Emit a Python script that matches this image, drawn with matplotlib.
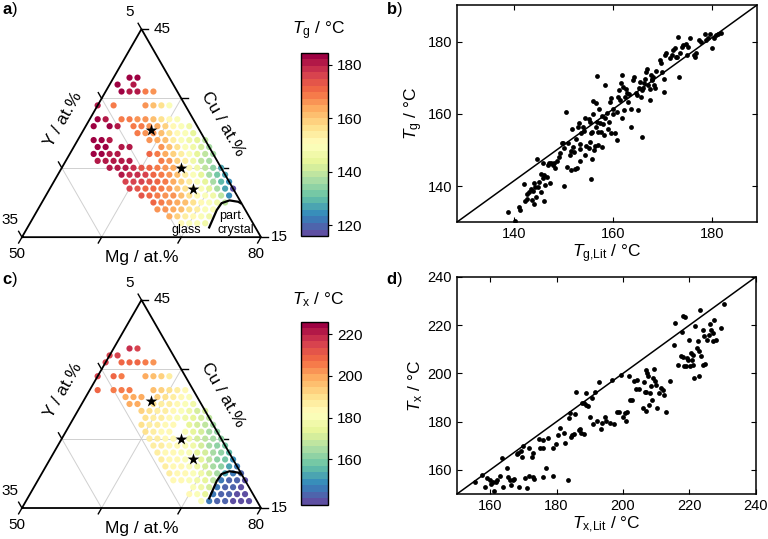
"""Ternary Tg/Tx maps of Mg-Cu-Y plus measured vs literature comparison."""

import matplotlib

matplotlib.use("Agg")

import matplotlib.pyplot as plt  # noqa: E402
import numpy as np  # noqa: E402

plt.rcParams["font.family"] = ["Liberation Sans", "DejaVu Sans"]
plt.rcParams["mathtext.fontset"] = "custom"
plt.rcParams["mathtext.rm"] = "Liberation Sans"
plt.rcParams["mathtext.it"] = "Liberation Sans:italic"
plt.rcParams["mathtext.bf"] = "Liberation Sans:bold"

# ---- panel a: Tg over composition (Cu, Y in at.%, Mg = rest) ----
cu_a = ([38] * 2 + [37] * 2 + [36] * 5 + [34] * 6 + [32] * 10 + [31] * 11
        + [30] * 8 + [29] * 11 + [28] * 11 + [27] * 13 + [26] * 12 + [25] * 15
        + [24] * 14 + [23] * 14 + [22] * 14 + [21] * 12 + [20] * 10 + [19] * 8
        + [18] * 6 + [17] * 4)
y_a = [10, 9,
       12, 10,
       12, 11, 10, 9, 8,
       16, 14, 10, 9, 8, 7,
       17, 16, 14, 13, 12, 11, 10, 9, 8, 7,
       18, 16, 15, 13, 12, 11, 10, 9, 8, 7, 6,
       13, 12, 11, 10, 9, 8, 7, 6,
       19, 18, 17, 12, 11, 10, 9, 8, 7, 6, 5,
       19, 18, 16, 15, 11, 10, 9, 8, 7, 6, 5,
       20, 19, 18, 17, 13, 12, 11, 10, 9, 8, 7, 6, 5,
       20, 19, 18, 17, 16, 12, 11, 10, 9, 8, 7, 6,
       19, 18, 17, 16, 15, 14, 13, 12, 11, 10, 9, 8, 7, 6, 5,
       18, 17, 16, 15, 14, 13, 12, 11, 10, 9, 8, 7, 6, 5,
       18, 17, 16, 15, 14, 13, 12, 11, 10, 9, 8, 7, 6, 5,
       18, 17, 16, 15, 14, 13, 12, 11, 10, 9, 8, 7, 6, 5,
       17, 16, 15, 14, 13, 12, 11, 10, 9, 8, 7, 6,
       16, 15, 14, 13, 12, 11, 10, 9, 8, 7,
       16, 15, 14, 13, 12, 11, 10, 9,
       15, 14, 13, 12, 11, 10,
       14, 13, 12, 11]
tg_a = [183, 183,
        184, 182,
        183, 182, 181, 168, 166,
        182, 168, 166, 162, 156, 150,
        183, 182, 169, 168, 167, 165, 162, 157, 152, 149,
        184, 183, 182, 169, 168, 166, 164, 158, 152, 150, 147,
        168, 167, 165, 162, 157, 152, 148, 145,
        183, 183, 182, 166, 164, 161, 155, 150, 147, 143, 140,
        184, 183, 182, 181, 165, 161, 156, 150, 146, 142, 138,
        183, 183, 182, 182, 170, 168, 164, 160, 154, 148, 144, 140, 136,
        182, 182, 182, 181, 180, 168, 165, 160, 153, 147, 140, 136,
        181, 181, 180, 178, 174, 171, 169, 167, 163, 158, 152, 146, 140, 134, 128,
        180, 179, 178, 176, 172, 169, 166, 161, 155, 150, 145, 138, 132, 126,
        177, 176, 175, 173, 170, 168, 164, 158, 153, 150, 145, 138, 130, 124,
        175, 174, 172, 170, 168, 166, 162, 157, 152, 150, 145, 137, 128, 118,
        173, 171, 169, 167, 165, 161, 156, 152, 150, 146, 140, 125,
        170, 168, 167, 164, 161, 156, 152, 150, 146, 140,
        167, 166, 164, 161, 157, 153, 150, 148,
        163, 159, 155, 152, 150, 147,
        152, 150, 148, 146]

# ---- panel c: Tx over composition ----
cu_c = ([38] * 2 + [37] * 2 + [36] * 6 + [34] * 7 + [32] * 9 + [31] * 8
        + [30] * 8 + [29] * 9 + [28] * 9 + [27] * 9 + [26] * 9 + [25] * 9
        + [24] * 10 + [23] * 10 + [22] * 10 + [21] * 10 + [20] * 10
        + [19] * 10 + [18] * 7 + [17] * 8 + [16] * 7)
y_c = [10, 9,
       13, 12,
       14, 12, 11, 10, 9, 8,
       16, 14, 13, 10, 9, 8, 7,
       17, 15, 14, 13, 10, 9, 8, 7, 6,
       14, 13, 12, 10, 9, 8, 7, 6,
       14, 13, 11, 10, 9, 8, 7, 6,
       13, 12, 11, 10, 9, 8, 7, 6, 5,
       13, 12, 11, 10, 9, 8, 7, 6, 5,
       14, 13, 12, 11, 10, 8, 7, 6, 5,
       14, 13, 12, 11, 9, 8, 7, 6, 5,
       14, 13, 12, 11, 9, 8, 7, 6, 5,
       14, 13, 12, 11, 10, 9, 8, 7, 6, 5,
       14, 13, 12, 11, 10, 9, 8, 7, 6, 5,
       14, 13, 12, 11, 10, 9, 8, 7, 6, 5,
       14, 13, 12, 11, 10, 9, 8, 7, 6, 5,
       14, 13, 12, 11, 10, 9, 8, 7, 6, 5,
       14, 13, 12, 11, 10, 9, 8, 7, 6, 5,
       12, 11, 10, 9, 8, 7, 6,
       13, 12, 11, 10, 9, 8, 7, 6,
       12, 11, 10, 9, 8, 7, 6]
tx_c = [217, 216,
        216, 214,
        215, 210, 209, 208, 205, 203,
        214, 208, 207, 200, 197, 192, 188,
        210, 206, 205, 204, 196, 193, 190, 186, 183,
        200, 199, 198, 192, 189, 187, 184, 181,
        199, 198, 190, 188, 186, 183, 180, 176,
        192, 190, 188, 186, 183, 179, 176, 172, 170,
        190, 188, 186, 184, 181, 177, 173, 170, 167,
        190, 188, 186, 184, 182, 175, 171, 168, 165,
        189, 187, 185, 183, 179, 174, 170, 166, 163,
        188, 186, 184, 182, 177, 172, 168, 164, 160,
        188, 186, 184, 182, 180, 176, 171, 166, 162, 158,
        187, 185, 183, 181, 179, 175, 170, 165, 160, 155,
        187, 185, 183, 181, 178, 173, 168, 163, 157, 150,
        186, 184, 182, 180, 177, 172, 166, 160, 152, 146,
        186, 184, 182, 180, 176, 170, 164, 152, 146, 142,
        185, 183, 181, 178, 174, 168, 145, 143, 142, 141,
        180, 176, 172, 146, 144, 142, 141,
        182, 179, 175, 146, 144, 142, 141, 140,
        180, 146, 144, 142, 141, 140, 139]

# reference alloys (Mg, Cu) marked with stars
star_mg = [58.5, 65, 68]
star_cu = [30.5, 25, 22]

# glass / partly crystalline border (Mg, Cu)
border_mg = [72.8, 72.5, 72.6, 73.4, 74.6, 75.0]
border_cu = [16.4, 18.9, 19.9, 20.3, 20.1, 19.9]

# ---- panel b: Tg measured vs literature ----
tg_lit_b = [138.8, 140.3, 141.1, 141.3, 142.1, 142.3, 142.6, 142.6, 143.0, 143.4,
            143.6, 143.9, 144.0, 144.1, 144.3, 144.5, 144.6, 144.9, 145.1, 145.4,
            145.5, 145.8, 145.9, 146.0, 146.1, 146.2, 146.6, 146.8, 147.0, 147.2,
            147.4, 147.9, 148.1, 148.3, 148.6, 149.1, 149.3, 149.7, 149.8, 150.0,
            150.1, 150.5, 150.6, 150.9, 151.3, 151.5, 151.6, 151.8, 152.0, 152.2,
            152.3, 152.6, 152.7, 153.0, 153.2, 153.3, 153.3, 153.4, 153.6, 154.0,
            154.1, 154.4, 154.4, 154.6, 155.2, 155.2, 155.3, 155.4, 155.6, 155.6,
            155.8, 155.8, 156.0, 156.0, 156.2, 156.4, 156.5, 156.6, 156.8, 156.8,
            156.9, 157.0, 157.2, 157.3, 157.5, 157.7, 157.8, 158.0, 158.1, 158.3,
            158.4, 158.7, 158.9, 159.2, 159.3, 159.5, 159.5, 159.9, 160.0, 160.4,
            160.7, 160.8, 160.9, 161.2, 161.3, 161.5, 161.7, 161.8, 161.9, 162.2,
            162.3, 162.6, 162.8, 163.0, 163.2, 163.5, 163.7, 164.0, 164.2, 164.6,
            164.8, 165.0, 165.2, 165.4, 165.6, 165.8, 165.9, 166.0, 166.2, 166.4,
            166.7, 166.8, 167.1, 167.4, 167.5, 167.7, 167.8, 167.9, 168.1, 168.2,
            168.5, 168.6, 169.4, 169.7, 169.9, 170.2, 170.2, 170.5, 170.7, 171.4,
            171.9, 172.1, 172.4, 172.6, 172.9, 173.1, 173.2, 173.4, 173.8, 174.1,
            174.6, 174.8, 175.1, 175.6, 176.4, 176.6, 176.8, 177.4, 177.8, 178.5,
            178.7, 179.1, 179.5, 179.9, 180.3, 180.7, 181.1, 181.8]
tg_b = [132.7, 130.2, 134.2, 133.3, 140.6, 135.9, 137.7, 136.4, 138.4, 139.2,
        136.0, 138.7, 135.0, 140.8, 139.6, 136.9, 147.4, 139.8, 141.2, 143.2,
        138.4, 142.3, 146.5, 135.9, 143.0, 140.2, 142.4, 145.9, 146.5, 140.9,
        146.3, 145.9, 146.5, 144.9, 147.0, 148.1, 149.2, 152.0, 151.8, 139.9,
        150.5, 160.6, 145.2, 151.8, 148.7, 149.7, 144.4, 155.9, 150.9, 149.4,
        144.8, 153.0, 144.9, 156.5, 157.5, 151.7, 150.2, 146.9, 154.6, 156.5,
        155.3, 159.0, 148.6, 151.0, 158.7, 150.5, 152.3, 157.8, 154.7, 142.0,
        147.6, 155.0, 160.1, 163.7, 150.0, 151.1, 162.9, 156.3, 170.5, 157.8,
        155.1, 151.4, 161.5, 157.6, 155.1, 150.9, 159.4, 157.2, 154.1, 158.8,
        168.0, 160.3, 155.8, 157.8, 163.2, 164.3, 154.6, 160.0, 161.5, 154.6,
        160.6, 152.8, 164.8, 166.6, 163.8, 168.5, 158.8, 170.8, 167.4, 161.1,
        164.8, 166.8, 165.7, 163.4, 165.5, 161.5, 156.5, 169.4, 170.3, 165.9,
        165.2, 161.1, 167.1, 168.9, 164.8, 166.6, 153.7, 167.3, 168.5, 169.6,
        171.7, 172.6, 168.0, 166.8, 163.8, 170.8, 169.4, 169.6, 170.3, 168.0,
        167.1, 172.0, 174.9, 174.0, 171.7, 169.6, 166.1, 176.3, 176.8, 175.4,
        176.3, 177.7, 178.2, 175.7, 175.9, 181.4, 170.3, 176.8, 178.6, 179.1,
        179.5, 176.3, 178.6, 181.2, 176.3, 175.8, 176.8, 180.6, 180.0, 182.3,
        180.6, 181.2, 182.3, 178.2, 181.2, 181.8, 182.3, 182.5]

# ---- panel d: Tx measured vs literature ----
tx_lit_d = [155.5, 157.5, 158.5, 159.2, 160.0, 160.3, 160.8, 161.2, 161.8, 162.2,
            163.0, 163.5, 164.0, 165.0, 165.5, 166.0, 166.3, 166.8, 167.2, 168.0,
            168.5, 168.8, 169.2, 169.6, 170.0, 170.5, 171.0, 171.6, 171.7, 172.5,
            172.8, 173.0, 173.2, 174.8, 175.0, 175.8, 176.0, 176.0, 176.8, 177.5,
            179.0, 179.0, 179.8, 180.5, 181.0, 182.1, 182.5, 183.5, 183.8, 184.2,
            184.5, 184.8, 185.2, 185.5, 186.0, 186.8, 187.0, 187.3, 187.8, 188.2,
            188.4, 188.8, 189.0, 189.4, 190.0, 190.8, 191.0, 191.5, 192.2, 192.8,
            193.5, 193.8, 194.5, 195.0, 196.0, 196.8, 197.2, 198.2, 198.8, 199.5,
            200.0, 200.5, 200.8, 201.2, 201.8, 202.2, 202.7, 203.2, 203.8, 204.2,
            204.8, 206.0, 206.2, 206.5, 206.8, 207.0, 207.0, 207.2, 207.5, 207.8,
            208.2, 208.5, 208.8, 209.2, 209.5, 209.7, 210.0, 210.2, 210.8, 211.5,
            212.0, 212.5, 213.0, 214.3, 215.5, 215.8, 216.5, 217.5, 217.8, 218.0,
            218.2, 218.5, 218.8, 219.0, 219.2, 219.5, 220.0, 220.2, 220.5, 220.7,
            221.0, 221.2, 221.5, 221.8, 222.2, 222.5, 222.8, 223.0, 223.2, 223.5,
            224.0, 224.0, 224.5, 224.8, 225.2, 225.8, 226.2, 226.5, 227.0, 227.2,
            227.5, 228.0, 229.5, 230.5]
tx_d = [154.9, 157.9, 152.8, 156.5, 155.8, 154.0, 154.9, 151.4, 154.9, 155.6,
        157.6, 164.8, 153.1, 160.7, 157.2, 155.6, 153.8, 155.6, 156.1, 166.6,
        167.2, 152.7, 168.0, 165.5, 169.7, 156.5, 152.4, 169.0, 157.5, 165.3,
        166.9, 157.0, 156.1, 172.7, 168.9, 172.2, 168.9, 157.0, 160.7, 173.1,
        169.0, 157.5, 170.8, 174.5, 177.4, 175.5, 171.3, 155.8, 181.5, 183.5,
        173.6, 174.5, 174.9, 183.3, 192.5, 176.6, 176.9, 175.5, 187.7, 174.9,
        187.7, 187.0, 191.8, 186.3, 182.1, 189.8, 179.1, 192.2, 180.1, 196.3,
        176.9, 179.4, 182.1, 180.1, 179.4, 197.4, 179.1, 184.2, 184.2, 199.5,
        182.1, 183.5, 180.1, 183.8, 199.0, 189.1, 188.8, 197.0, 193.5, 197.4,
        193.5, 185.6, 196.3, 192.5, 184.6, 201.5, 192.1, 200.1, 198.8, 187.0,
        191.8, 194.9, 189.1, 198.1, 201.8, 196.7, 195.3, 185.6, 191.8, 193.9,
        193.2, 191.1, 184.2, 196.7, 211.9, 220.9, 203.6, 207.1, 217.0, 223.7,
        206.8, 202.9, 223.4, 202.9, 206.4, 205.7, 214.0, 202.9, 208.4, 205.7,
        207.7, 203.6, 198.1, 219.5, 210.5, 213.3, 209.1, 199.0, 226.2, 207.3,
        203.6, 218.1, 215.4, 203.9, 214.0, 216.1, 220.6, 218.1, 213.3, 216.7,
        222.3, 213.7, 218.8, 228.8]

H = np.sqrt(3) / 2


def to_xy(mg, cu):
    """Mg/Cu at.% (Mg 50-80, Cu 15-45, Y 5-35) -> triangle coordinates."""
    b = (np.asarray(mg, dtype=float) - 50) / 30
    c = (np.asarray(cu, dtype=float) - 15) / 30
    return b + c / 2, c * H


def frac_xy(b, c):
    return b + c / 2, c * H


def draw_ternary(ax):
    ax.set_xlim(0, 1)
    ax.set_ylim(0, H)
    ax.axis("off")
    for v in (1 / 3, 2 / 3):
        for p, q in [((0, v), (1 - v, v)), ((v, 0), (v, 1 - v)), ((1 - v, 0), (0, 1 - v))]:
            x0, y0 = frac_xy(*p)
            x1, y1 = frac_xy(*q)
            ax.plot([x0, x1], [y0, y1], color="#d0d0d0", lw=0.7, zorder=1)
    ax.plot([0, 1, 0.5, 0], [0, 0, H, 0], color="black", lw=1.3, zorder=4,
            clip_on=False, solid_joinstyle="miter")
    t = 0.028
    for v in (0, 1 / 3, 2 / 3, 1):
        # Cu ticks on the right edge
        x, y = frac_xy(1 - v, v)
        ax.plot([x, x + t], [y, y], color="black", lw=1, clip_on=False)
        # Y ticks on the left edge
        x, y = frac_xy(0, 1 - v)
        ax.plot([x, x - t * 0.5], [y, y + t * H], color="black", lw=1, clip_on=False)
        # Mg ticks on the bottom edge
        x, y = frac_xy(v, 0)
        ax.plot([x, x - t * 0.5], [y, y - t * H], color="black", lw=1, clip_on=False)
    kw = dict(fontsize=11, ha="center", va="center")
    ax.text(0.452, 0.936, "5", **kw)
    ax.text(0.585, 0.868, "45", **kw)
    ax.text(-0.05, 0.071, "35", **kw)
    ax.text(-0.02, -0.07, "50", **kw)
    ax.text(0.98, -0.07, "80", **kw)
    ax.text(1.075, 0.0, "15", **kw)
    ax.text(0.172, 0.49, "Y / at.%", fontsize=12.5, rotation=60, ha="center", va="center")
    ax.text(0.84, 0.47, "Cu / at.%", fontsize=12.5, rotation=-60, ha="center", va="center")
    ax.text(0.50, -0.085, "Mg / at.%", fontsize=12.5, ha="center", va="center")


def ternary_panel(ax, cu, yv, vals, cmap, vmin, vmax):
    cu = np.asarray(cu)
    mg = 100 - cu - np.asarray(yv)
    draw_ternary(ax)
    x, y = to_xy(mg, cu)
    sc = ax.scatter(x, y, c=vals, cmap=cmap, vmin=vmin, vmax=vmax, s=20,
                    linewidths=0, zorder=2)
    sx, sy = to_xy(star_mg, star_cu)
    ax.scatter(sx, sy, marker="*", s=80, color="black", linewidths=0, zorder=5)
    bx, by = to_xy(border_mg, border_cu)
    ax.plot(bx, by, color="black", lw=1.6, zorder=5)
    return sc


def colorbar_panel(fig, sc, rect, ticks, title):
    cax = fig.add_axes(rect)
    cb = fig.colorbar(sc, cax=cax, ticks=ticks)
    cb.outline.set_linewidth(1)
    cax.tick_params(labelsize=11, length=3, width=0.8, direction="out")
    fig.text(rect[0] + rect[2] / 2 + 0.005, rect[1] + rect[3] + 0.041, title,
             fontsize=12.5, ha="center", va="center")
    return cb


def scatter_panel(ax, xv, yv, xlim, ylim, ticks, xlabel, ylabel):
    ax.scatter(xv, yv, s=12, color="black", linewidths=0, zorder=3)
    # identity guide drawn corner to corner
    ax.plot([0, 1], [0, 1], transform=ax.transAxes, color="black", lw=1.1, zorder=2)
    ax.set_xlim(xlim)
    ax.set_ylim(ylim)
    ax.set_xticks(ticks)
    ax.set_yticks(ticks)
    ax.tick_params(direction="in", top=True, right=True, length=3.5, width=0.8,
                   labelsize=10.5)
    for s in ax.spines.values():
        s.set_linewidth(1.1)
    ax.set_xlabel(xlabel, fontsize=12.5, labelpad=1)
    ax.set_ylabel(ylabel, fontsize=12.5, labelpad=2)


fig = plt.figure(figsize=(7.68, 5.39), dpi=100)
cmap = matplotlib.colormaps["Spectral_r"].resampled(28)

ax_a = fig.add_axes([0.0286, 0.560, 0.3112, 0.386])
sc_a = ternary_panel(ax_a, cu_a, y_a, tg_a, cmap, 116, 184.5)
colorbar_panel(fig, sc_a, [0.392, 0.562, 0.035, 0.340], [120, 140, 160, 180],
               r"$T_\mathrm{g}$ / °C")
ax_a.text(0.877, 0.088, "part.", fontsize=9, ha="center", va="center")
ax_a.text(0.893, 0.030, "crystal", fontsize=9, ha="center", va="center")
ax_a.text(0.686, 0.030, "glass", fontsize=9, ha="center", va="center")

ax_c = fig.add_axes([0.0286, 0.0575, 0.3112, 0.386])
sc_c = ternary_panel(ax_c, cu_c, y_c, tx_c, cmap, 138, 226)
colorbar_panel(fig, sc_c, [0.392, 0.063, 0.035, 0.340], [160, 180, 200, 220],
               r"$T_\mathrm{x}$ / °C")

ax_b = fig.add_axes([0.595, 0.588, 0.3906, 0.4026])
scatter_panel(ax_b, tg_lit_b, tg_b, (128.5, 189), (130, 190.2), [140, 160, 180],
              r"$T_\mathrm{g{,}Lit}$ / °C", r"$T_\mathrm{g}$ / °C")

ax_d = fig.add_axes([0.595, 0.0835, 0.389, 0.4026])
scatter_panel(ax_d, tx_lit_d, tx_d, (150, 240), (150, 240), [160, 180, 200, 220, 240],
              r"$T_\mathrm{x{,}Lit}$ / °C", r"$T_\mathrm{x}$ / °C")

for lab, xx, yy in [("a", 0.002, 0.982), ("b", 0.502, 0.982),
                    ("c", 0.002, 0.482), ("d", 0.502, 0.482)]:
    fig.text(xx, yy, rf"$\mathbf{{{lab}}}$)", fontsize=12, ha="left", va="center")

fig.savefig("out.png", dpi=100)
